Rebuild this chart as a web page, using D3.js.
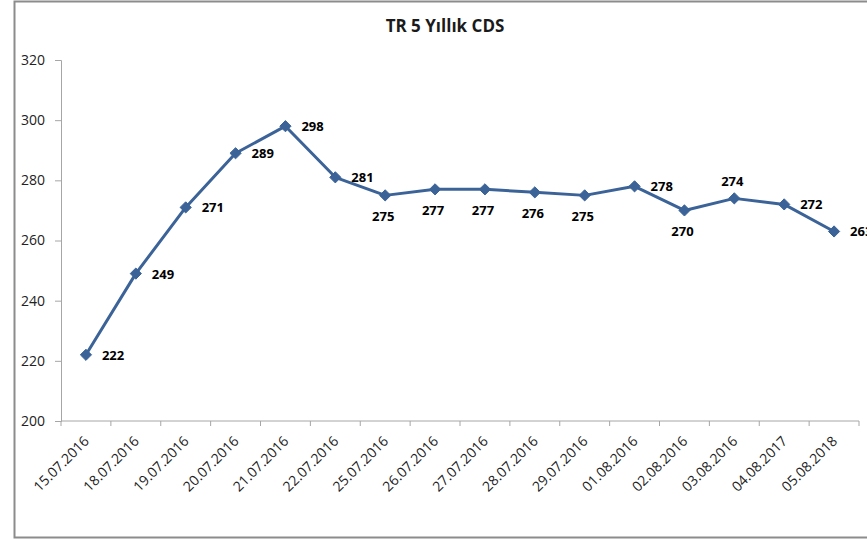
<!DOCTYPE html>
<html>
<head>
<meta charset="utf-8">
<script src="https://cdn.jsdelivr.net/npm/d3@7"></script>
<style>
  body { margin: 0; background: #fff; }
  svg text { font-family: "Open Sans", sans-serif; }
</style>
</head>
<body>
<div class="chart"></div>
<script>
// data
var dates = ["15.07.2016", "18.07.2016", "19.07.2016", "20.07.2016", "21.07.2016", "22.07.2016",
             "25.07.2016", "26.07.2016", "27.07.2016", "28.07.2016", "29.07.2016", "01.08.2016",
             "02.08.2016", "03.08.2016", "04.08.2017", "05.08.2018"];
var cds = [222, 249, 271, 289, 298, 281, 275, 277, 277, 276, 275, 278, 270, 274, 272, 263];
var yTicks = [200, 220, 240, 260, 280, 300, 320];
// where each value label sits relative to its point
var labelPos = ["r", "r", "r", "r", "r", "r", "b", "b", "b", "b", "b", "r", "b", "t", "r", "r"];

function drawChart() {
    var w = 867;
    var h = 539;
    var pLeft = 61, pRight = 859, pTop = 60, pBottom = 421;
    var lineColor = "#3b6398";

    var svg = d3.select(".chart")
        .append("svg")
        .attr("width", w)
        .attr("height", h);

    // outer frame (right edge is cut off in the original)
    svg.append("path")
        .attr("d", "M" + (w + 5) + ",1.5 H14.5 V537.5 H" + (w + 5))
        .attr("fill", "none")
        .attr("stroke", "#8c8c8c")
        .attr("stroke-width", 2);

    svg.append("text")
        .attr("x", 445)
        .attr("y", 32)
        .attr("text-anchor", "middle")
        .attr("font-size", "17px")
        .attr("font-weight", "bold")
        .attr("fill", "#1a1a1a")
        .text("TR 5 Yıllık CDS");

    var xScale = d3.scaleBand()
        .domain(d3.range(dates.length))
        .range([pLeft, pRight]);

    var yScale = d3.scaleLinear()
        .domain([200, 320])
        .range([pBottom, pTop]);

    // y axis
    var yaxis = d3.axisLeft(yScale)
        .tickValues(yTicks)
        .tickSize(6)
        .tickPadding(10);

    var gy = svg.append("g")
        .attr("transform", "translate(" + pLeft + ",0)")
        .call(yaxis);
    gy.select(".domain").attr("stroke", "#a6a6a6");
    gy.selectAll(".tick line").attr("stroke", "#a6a6a6");
    gy.selectAll(".tick text")
        .attr("font-size", "14px")
        .attr("font-family", "'Open Sans', sans-serif")
        .attr("fill", "#222");

    // x axis
    var gx = svg.append("g")
        .attr("transform", "translate(0," + pBottom + ")");
    gx.append("line")
        .attr("x1", pLeft).attr("x2", pRight)
        .attr("y1", 0).attr("y2", 0)
        .attr("stroke", "#a6a6a6");
    gx.selectAll(".xt")
        .data(d3.range(dates.length + 1))
        .enter()
        .append("line")
        .attr("class", "xt")
        .attr("x1", function(i) { return i < dates.length ? xScale(i) : pRight; })
        .attr("x2", function(i) { return i < dates.length ? xScale(i) : pRight; })
        .attr("y1", 0).attr("y2", 5)
        .attr("stroke", "#a6a6a6");
    gx.selectAll(".xl")
        .data(dates)
        .enter()
        .append("text")
        .attr("class", "xl")
        .attr("text-anchor", "end")
        .attr("font-size", "14px")
        .attr("fill", "#222")
        .attr("transform", function(d, i) {
            return "translate(" + (xScale(i) + xScale.bandwidth() / 2 + 4) + ",21) rotate(-45)";
        })
        .text(function(d) { return d; });

    var cx = function(i) { return xScale(i) + xScale.bandwidth() / 2; };

    var line = d3.line()
        .x(function(d, i) { return cx(i); })
        .y(function(d) { return yScale(d); });

    svg.append("path")
        .datum(cds)
        .attr("d", line)
        .attr("fill", "none")
        .attr("stroke", lineColor)
        .attr("stroke-width", 3)
        .attr("stroke-linejoin", "round");

    svg.selectAll(".pt")
        .data(cds)
        .enter()
        .append("path")
        .attr("class", "pt")
        .attr("d", d3.symbol().type(d3.symbolDiamond2).size(80))
        .attr("transform", function(d, i) {
            return "translate(" + cx(i) + "," + yScale(d) + ")";
        })
        .attr("fill", lineColor)
        .attr("stroke", lineColor)
        .attr("stroke-width", 1);

    // value labels
    svg.selectAll(".val")
        .data(cds)
        .enter()
        .append("text")
        .attr("class", "val")
        .attr("font-size", "13px")
        .attr("font-weight", "bold")
        .attr("fill", "#000")
        .attr("text-anchor", function(d, i) { return labelPos[i] == "r" ? "start" : "middle"; })
        .attr("x", function(d, i) { return labelPos[i] == "r" ? cx(i) + 16 : cx(i) - 2; })
        .attr("y", function(d, i) {
            var y = yScale(d);
            if (labelPos[i] == "b") return y + 26;
            if (labelPos[i] == "t") return y - 12;
            return y + 5;
        })
        .text(function(d) { return d; });
}

drawChart();
</script>
</body>
</html>
